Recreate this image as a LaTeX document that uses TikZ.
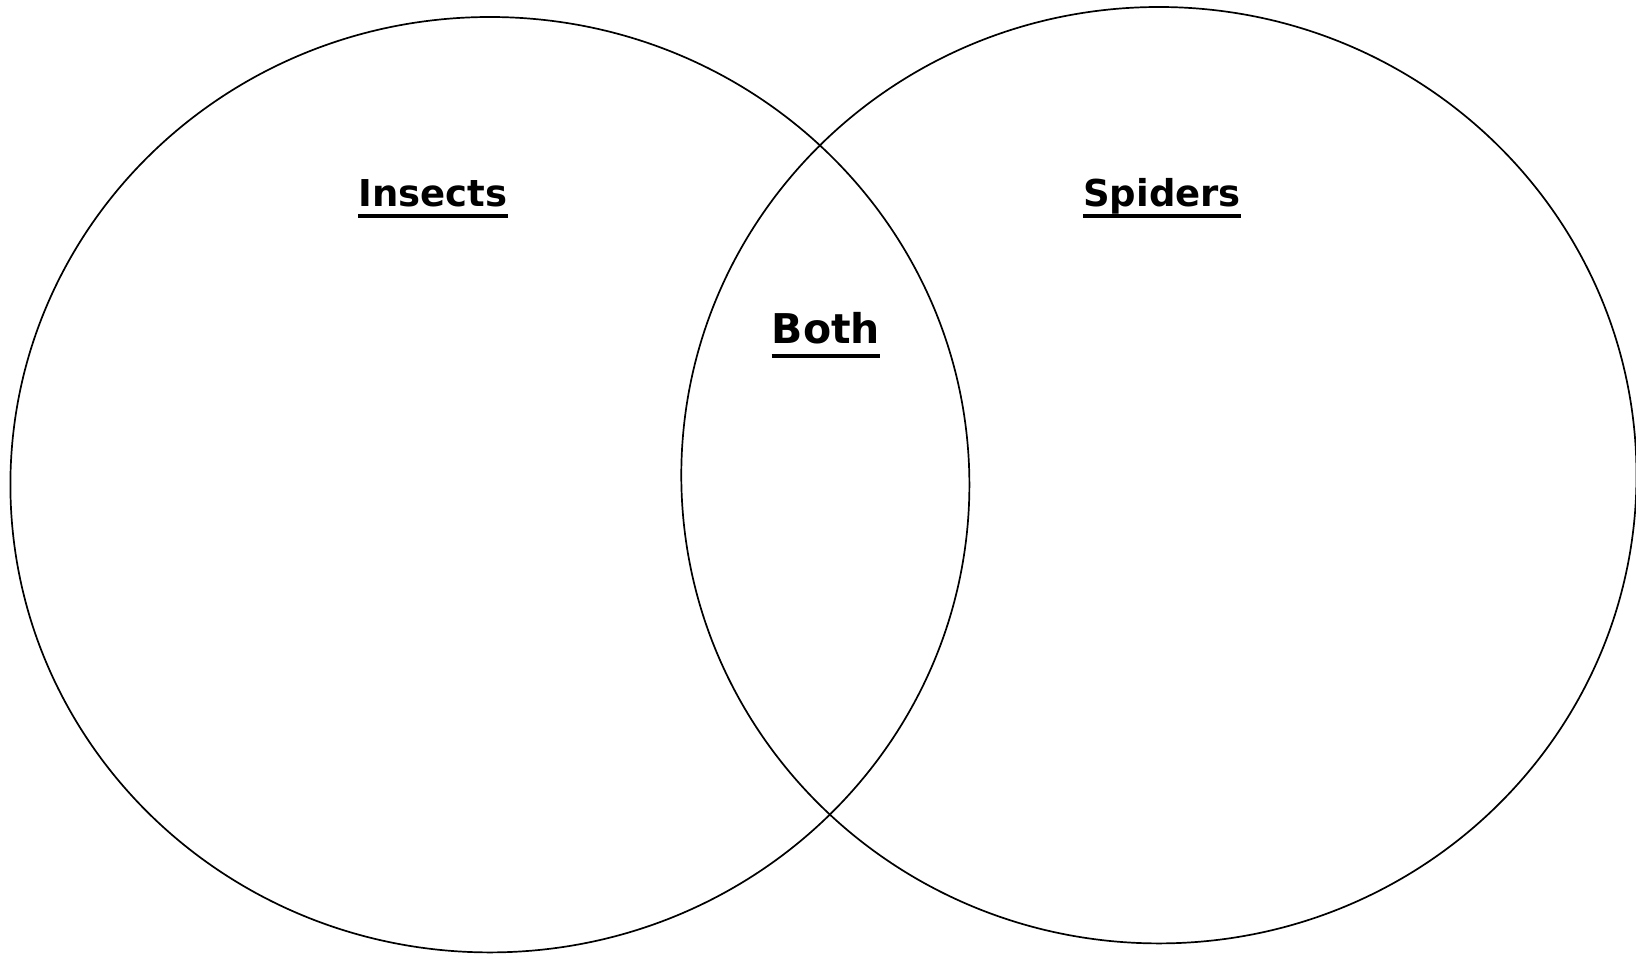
\documentclass[tikz,border=0pt]{standalone}
\usepackage{fontspec}
\setmainfont{DejaVu Sans}
\begin{document}
\begin{tikzpicture}[x=1pt,y=1pt,
  ring/.style={draw=black,line width=1.7pt},
  lbl/.style={inner sep=0pt,anchor=base,font=\bfseries\fontsize{37}{44}\selectfont},
  ul/.style={line width=3.5pt}]
\useasboundingbox (0,0) rectangle (1636,-955);
\begin{scope}
\clip (0,0) rectangle (1636,-955);
\draw[ring] (489.9,-484.7) ellipse [x radius=479.5, y radius=467.7];
\draw[ring] (1158.9,-475.2) ellipse [x radius=477.6, y radius=468.2];
\end{scope}
\node[lbl] (ins) at (433,-206.5) {Insects};
\node[lbl] (spi) at (1162,-206.5) {Spiders};
\node[lbl,font=\bfseries\fontsize{41}{48}\selectfont] (both) at (826,-343) {Both};
\draw[ul] ([yshift=-9.5pt]ins.base west) -- ([yshift=-9.5pt]ins.base east);
\draw[ul] ([yshift=-9.5pt]spi.base west) -- ([yshift=-9.5pt]spi.base east);
\draw[ul] ([yshift=-13pt]both.base west) -- ([yshift=-13pt]both.base east);
\end{tikzpicture}
\end{document}
